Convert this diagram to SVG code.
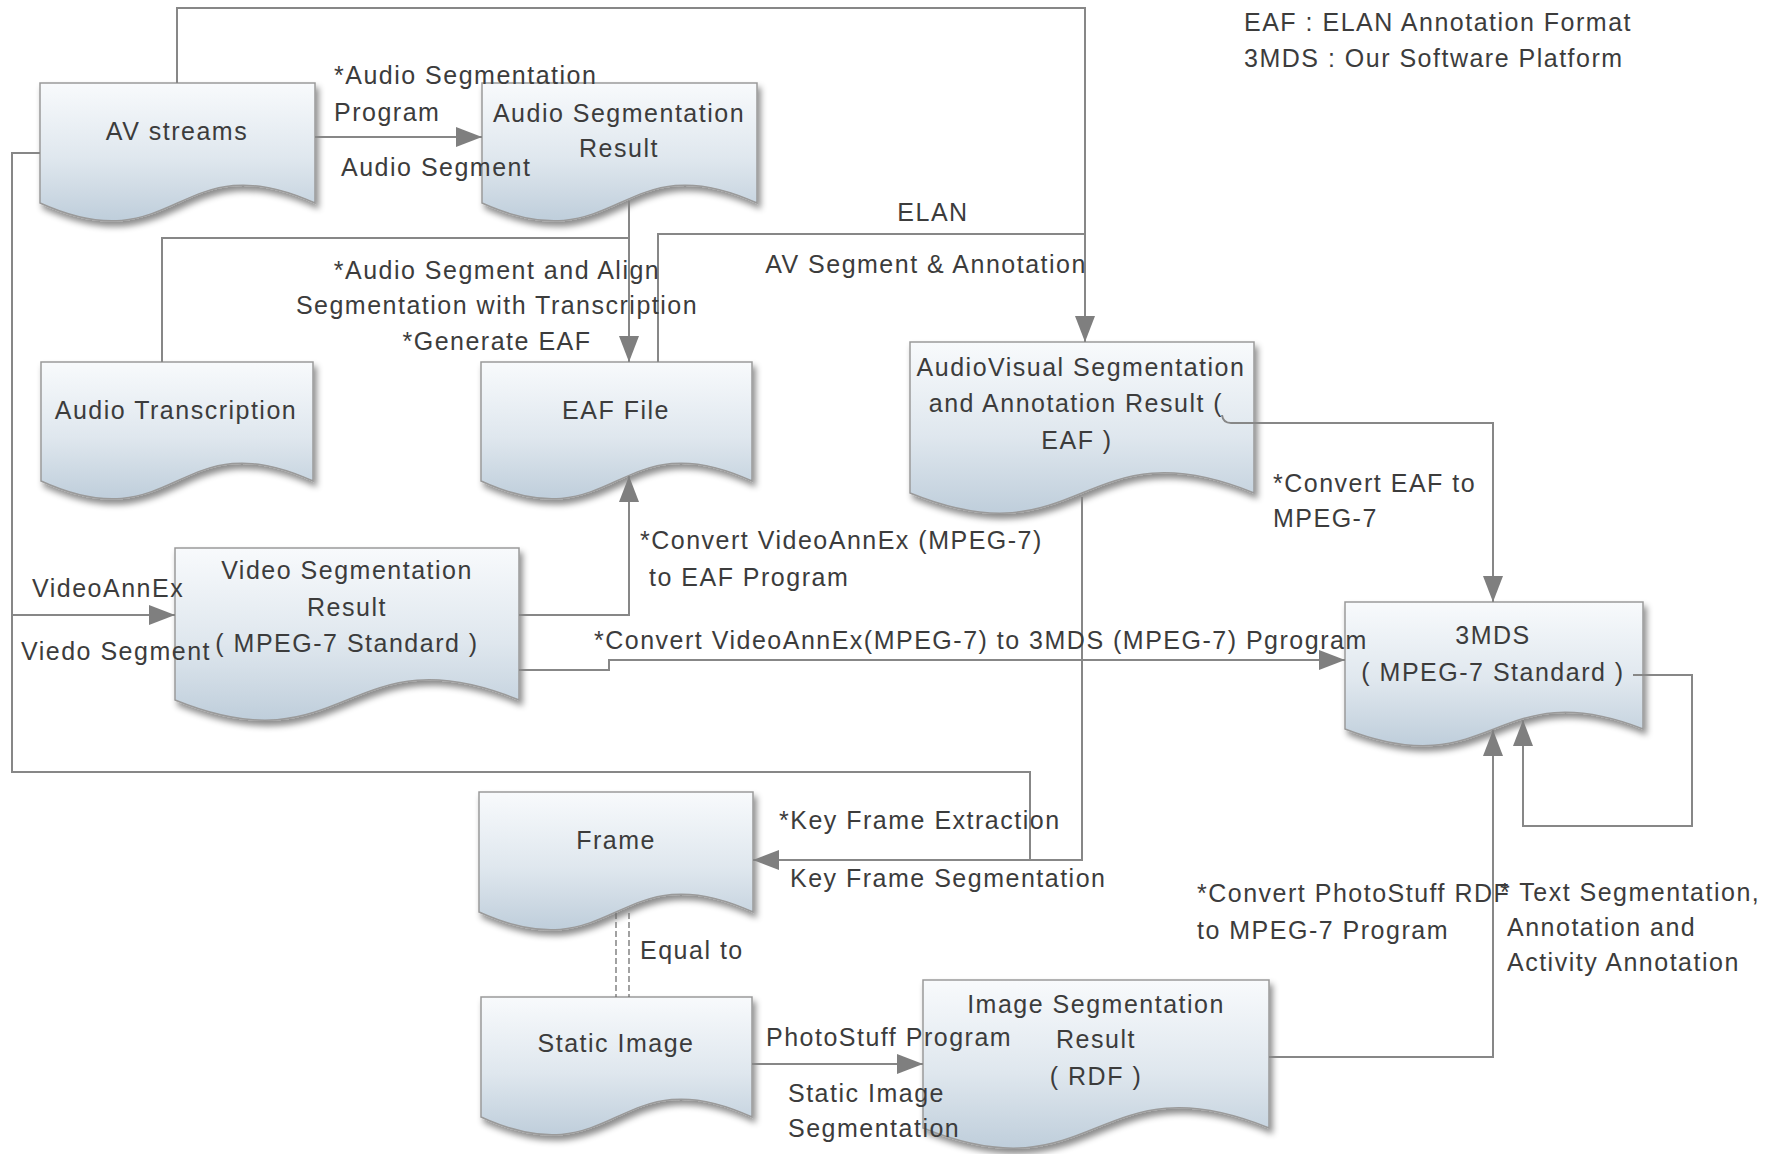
<svg xmlns="http://www.w3.org/2000/svg" width="1788" height="1154" viewBox="0 0 1788 1154">
<defs>
<linearGradient id="docfill" x1="0" y1="0" x2="0" y2="1">
<stop offset="0" stop-color="#f8fafc"/>
<stop offset="0.55" stop-color="#dfe7ee"/>
<stop offset="1" stop-color="#bfcedb"/>
</linearGradient>
<filter id="shadow" x="-10%" y="-10%" width="125%" height="130%">
<feDropShadow dx="3" dy="5" stdDeviation="3" flood-color="#000" flood-opacity="0.45"/>
</filter>
<marker id="arrow" markerUnits="userSpaceOnUse" markerWidth="26" markerHeight="20" refX="26" refY="10" orient="auto">
<path d="M0,0 L26,10 L0,20 Z" fill="#7f7f7f"/>
</marker>
</defs>
<style>
.doc { fill: url(#docfill); stroke: #9a9a9a; stroke-width: 1.5; filter: url(#shadow); }
text { font-family: "Liberation Sans", Arial, sans-serif; font-size: 25px; letter-spacing: 1.5px; fill: #3c3c3c; }
.c { text-anchor: middle; }
.edge { fill: none; stroke: #878787; stroke-width: 2; }
.arr { marker-end: url(#arrow); }
.dash { fill: none; stroke: #707070; stroke-width: 1.3; stroke-dasharray: 6 3; }
</style>
<rect width="1788" height="1154" fill="#ffffff"/>

<g id="av-streams">
<path class="doc" d="M40,83 H315 V203 C177.5,141 177.5,265 40,203 Z"/>
<text class="c" x="177" y="140">AV streams</text>
</g>
<g id="audio-seg-result">
<path class="doc" d="M482,83 H757 V203 C619.5,141 619.5,265 482,203 Z"/>
<text class="c" x="619" y="122">Audio Segmentation</text>
<text class="c" x="619" y="157">Result</text>
</g>
<g id="audio-transcription">
<path class="doc" d="M41,362 H313 V481 C177,419 177,543 41,481 Z"/>
<text class="c" x="176" y="419">Audio Transcription</text>
</g>
<g id="eaf-file">
<path class="doc" d="M481,362 H752 V481 C616.5,419 616.5,543 481,481 Z"/>
<text class="c" x="616" y="419">EAF File</text>
</g>
<g id="audiovisual-result">
<path class="doc" d="M910,342 H1254 V493 C1082,423 1082,563 910,493 Z"/>
<text class="c" x="1081" y="376">AudioVisual Segmentation</text>
<text class="c" x="1076" y="412">and Annotation Result (</text>
<text class="c" x="1077" y="449">EAF )</text>
</g>
<g id="video-seg-result">
<path class="doc" d="M175,548 H519 V700 C347,630 347,770 175,700 Z"/>
<text class="c" x="347" y="579">Video Segmentation</text>
<text class="c" x="347" y="616">Result</text>
<text class="c" x="347" y="652">( MPEG-7 Standard )</text>
</g>
<g id="mds3">
<path class="doc" d="M1345,602 H1643 V729 C1494,671 1494,787 1345,729 Z"/>
<text class="c" x="1493" y="644">3MDS</text>
<text class="c" x="1493" y="681">( MPEG-7 Standard )</text>
</g>
<g id="frame">
<path class="doc" d="M479,792 H753 V912 C616,850 616,974 479,912 Z"/>
<text class="c" x="616" y="849">Frame</text>
</g>
<g id="static-image">
<path class="doc" d="M481,997 H752 V1117 C616.5,1055 616.5,1179 481,1117 Z"/>
<text class="c" x="616" y="1052">Static Image</text>
</g>
<g id="image-seg-result">
<path class="doc" d="M923,980 H1269 V1128 C1096,1058 1096,1198 923,1128 Z"/>
<text class="c" x="1096" y="1013">Image Segmentation</text>
<text class="c" x="1096" y="1048">Result</text>
<text class="c" x="1096" y="1085">( RDF )</text>
</g>

<g id="connectors">
<path class="edge arr" d="M177,83 V8 H1085 V342"/>
<path class="edge arr" d="M315,137 H482"/>
<path class="edge arr" d="M629,201 V362"/>
<path class="edge" d="M162,362 V238 H629"/>
<path class="edge" d="M658,362 V234 H1085"/>
<path class="edge arr" d="M40,153 H12 V772 H1030 V860 H753"/>
<path class="edge arr" d="M12,615 H175"/>
<path class="edge" d="M1082,497 V860 H1030"/>
<path class="edge arr" d="M519,615 H629 V476"/>
<path class="edge arr" d="M519,670 H609 V660 H1345"/>
<path class="edge arr" d="M1222,415 Q1223,423 1231,423 H1493 V602"/>
<path class="edge arr" d="M1633,675 H1692 V826 H1523 V720"/>
<path class="edge arr" d="M1269,1057 H1493 V730"/>
<path class="edge arr" d="M752,1064 H923"/>
<path class="dash" d="M616,913 V997 M629,913 V997"/>
</g>

<g id="edge-labels">
<text x="334" y="84">*Audio Segmentation</text>
<text x="334" y="121">Program</text>
<text x="341" y="176">Audio Segment</text>
<text class="c" x="497" y="279">*Audio Segment and Align</text>
<text class="c" x="497" y="314">Segmentation with Transcription</text>
<text class="c" x="497" y="350">*Generate EAF</text>
<text class="c" x="933" y="221">ELAN</text>
<text class="c" x="926" y="273">AV Segment &amp; Annotation</text>
<text x="640" y="549">*Convert VideoAnnEx (MPEG-7)</text>
<text x="649" y="586">to EAF Program</text>
<text x="594" y="649">*Convert VideoAnnEx(MPEG-7) to 3MDS (MPEG-7) Pgrogram</text>
<text x="32" y="597">VideoAnnEx</text>
<text x="21" y="660">Viedo Segment</text>
<text x="1273" y="492">*Convert EAF to</text>
<text x="1273" y="527">MPEG-7</text>
<text x="779" y="829">*Key Frame Extraction</text>
<text x="790" y="887">Key Frame Segmentation</text>
<text x="640" y="959">Equal to</text>
<text x="766" y="1046">PhotoStuff Program</text>
<text x="788" y="1102">Static Image</text>
<text x="788" y="1137">Segmentation</text>
<text x="1197" y="902">*Convert PhotoStuff RDF</text>
<text x="1197" y="939">to MPEG-7 Program</text>
<text x="1500" y="901">* Text Segmentation,</text>
<text x="1507" y="936">Annotation and</text>
<text x="1507" y="971">Activity Annotation</text>
</g>

<g id="legend">
<text x="1244" y="31">EAF : ELAN Annotation Format</text>
<text x="1244" y="67">3MDS : Our Software Platform</text>
</g>
</svg>
